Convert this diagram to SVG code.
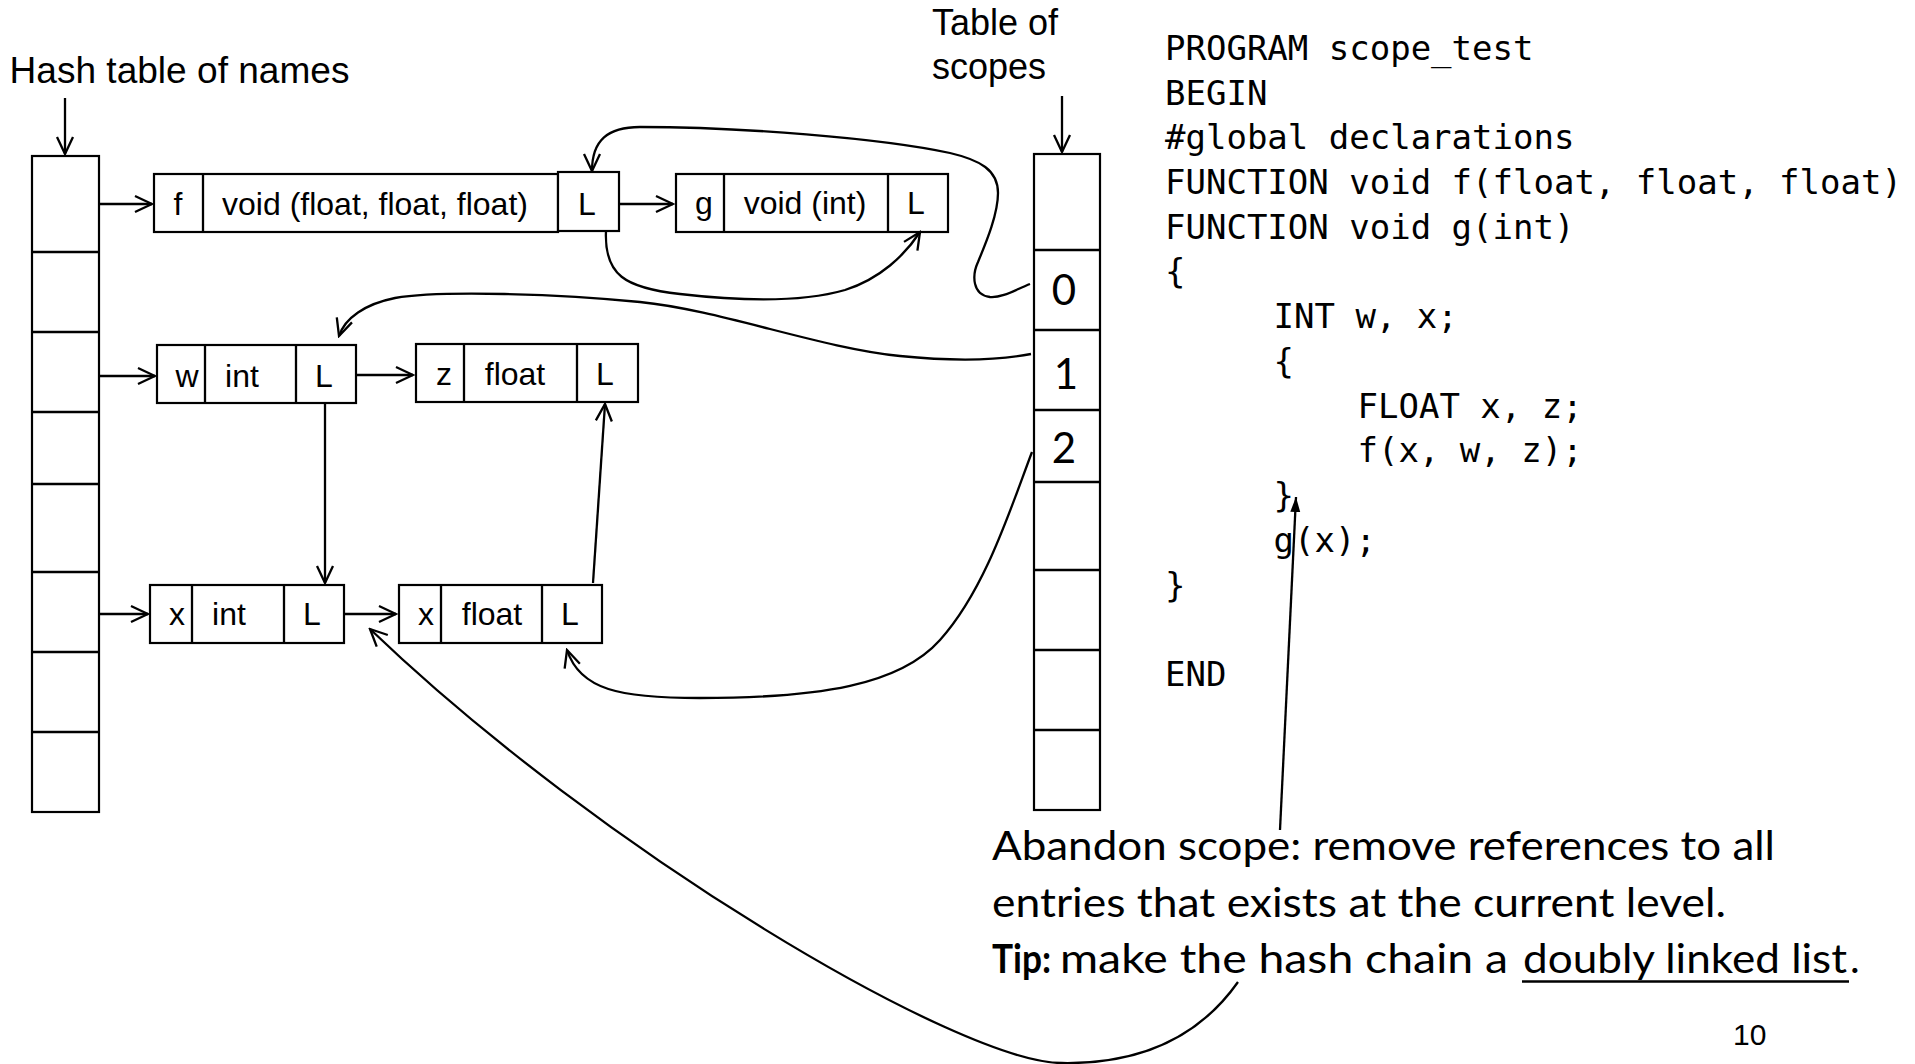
<svg xmlns="http://www.w3.org/2000/svg" width="1915" height="1064" viewBox="0 0 1915 1064">
<style>
.bg{fill:#fff}
.box{fill:#fff;stroke:#000;stroke-width:2.2}
.ln{fill:none;stroke:#000;stroke-width:2.3}
.arr{marker-end:url(#open)}
.sans{font-family:"Liberation Sans",Arial,sans-serif;fill:#000}
.nt{font-size:32px;text-anchor:middle}
.lbl{font-size:36px}
.num{font-family:Lato,"Noto Sans",sans-serif;font-size:42px;text-anchor:middle;fill:#000}
.code{font-family:"DejaVu Sans Mono","Liberation Mono",monospace;font-size:34px;fill:#000}
.note{font-family:Lato,"Noto Sans",sans-serif;font-size:41px;fill:#000}
</style>
<defs>
<marker id="open" markerUnits="userSpaceOnUse" markerWidth="22" markerHeight="22" viewBox="0 0 22 22" refX="20" refY="11" orient="auto">
<path d="M3,3 L20,11 L3,19" fill="none" stroke="#000" stroke-width="2.3"/>
</marker>
<marker id="solid" markerUnits="userSpaceOnUse" markerWidth="16" markerHeight="12" viewBox="0 0 16 12" refX="15" refY="6" orient="auto">
<path d="M0,1 L15,6 L0,11 Z" fill="#000"/>
</marker>
</defs>
<rect class="bg" x="0" y="0" width="1915" height="1064"/>

<g id="labels">
<text class="sans lbl" x="9.5" y="83" textLength="340" lengthAdjust="spacingAndGlyphs">Hash table of names</text>
<text class="sans lbl" x="932" y="35">Table of</text>
<text class="sans lbl" x="932" y="79">scopes</text>
</g>

<g id="hash-table">
<rect class="box" x="32" y="156" width="67" height="656"/>
<path class="ln" d="M32,252H99M32,332H99M32,412H99M32,484H99M32,572H99M32,652H99M32,732H99"/>
</g>

<g id="scope-table">
<rect class="box" x="1034" y="154" width="66" height="656"/>
<path class="ln" d="M1034,250H1100M1034,330H1100M1034,410H1100M1034,482H1100M1034,570H1100M1034,650H1100M1034,730H1100"/>
<text class="num" x="1064" y="305">0</text>
<text class="num" x="1066" y="389">1</text>
<text class="num" x="1064" y="463">2</text>
</g>

<g id="node-f">
<rect class="box" x="154" y="174" width="404" height="58"/>
<path class="ln" d="M203,174V232"/>
<rect class="box" x="558" y="172" width="61" height="59"/>
<text class="sans nt" x="178" y="215">f</text>
<text class="sans nt" x="375" y="215">void (float, float, float)</text>
<text class="sans nt" x="587" y="215">L</text>
</g>

<g id="node-g">
<rect class="box" x="676" y="174" width="272" height="58"/>
<path class="ln" d="M724,174V232M888,174V232"/>
<text class="sans nt" x="704" y="214">g</text>
<text class="sans nt" x="805" y="214">void (int)</text>
<text class="sans nt" x="916" y="214">L</text>
</g>

<g id="node-w">
<rect class="box" x="157" y="345" width="199" height="58"/>
<path class="ln" d="M205,345V403M296,345V403"/>
<text class="sans nt" x="187" y="387">w</text>
<text class="sans nt" x="242" y="387">int</text>
<text class="sans nt" x="324" y="387">L</text>
</g>

<g id="node-z">
<rect class="box" x="416" y="344" width="222" height="58"/>
<path class="ln" d="M464,344V402M577,344V402"/>
<text class="sans nt" x="444" y="385">z</text>
<text class="sans nt" x="515" y="385">float</text>
<text class="sans nt" x="605" y="385">L</text>
</g>

<g id="node-x-int">
<rect class="box" x="150" y="585" width="194" height="58"/>
<path class="ln" d="M192,585V643M284,585V643"/>
<text class="sans nt" x="177" y="625">x</text>
<text class="sans nt" x="229" y="625">int</text>
<text class="sans nt" x="312" y="625">L</text>
</g>

<g id="node-x-float">
<rect class="box" x="399" y="585" width="203" height="58"/>
<path class="ln" d="M441,585V643M542,585V643"/>
<text class="sans nt" x="426" y="625">x</text>
<text class="sans nt" x="492" y="625">float</text>
<text class="sans nt" x="570" y="625">L</text>
</g>

<g id="code">
<text class="code" x="1165" y="60">PROGRAM scope_test</text>
<text class="code" x="1165" y="105">BEGIN</text>
<text class="code" x="1165" y="149">#global declarations</text>
<text class="code" x="1165" y="194">FUNCTION void f(float, float, float)</text>
<text class="code" x="1165" y="239">FUNCTION void g(int)</text>
<text class="code" x="1165" y="283">{</text>
<text class="code" x="1273.5" y="328">INT w, x;</text>
<text class="code" x="1273.5" y="373">{</text>
<text class="code" x="1357.5" y="418">FLOAT x, z;</text>
<text class="code" x="1357.5" y="462">f(x, w, z);</text>
<text class="code" x="1273.5" y="507">}</text>
<text class="code" x="1273.5" y="552">g(x);</text>
<text class="code" x="1165" y="597">}</text>
<text class="code" x="1165" y="686">END</text>
</g>

<g id="note">
<text class="note" x="992" y="860" textLength="783" lengthAdjust="spacingAndGlyphs">Abandon scope: remove references to all</text>
<text class="note" x="992" y="917" textLength="734" lengthAdjust="spacingAndGlyphs">entries that exists at the current level.</text>
<text class="note" x="992" y="973" font-weight="bold" textLength="59" lengthAdjust="spacingAndGlyphs">Tip:</text>
<text class="note" x="1060" y="973" textLength="448" lengthAdjust="spacingAndGlyphs">make the hash chain a</text>
<text class="note" x="1523" y="973" textLength="324" lengthAdjust="spacingAndGlyphs">doubly linked list</text>
<text class="note" x="1850" y="973">.</text>
<line x1="1522" y1="981.5" x2="1849" y2="981.5" stroke="#000" stroke-width="2.5"/>
<text class="sans" x="1733" y="1045" font-size="30">10</text>
</g>

<g id="connectors">
<path class="ln arr" d="M65,98V154"/>
<path class="ln arr" d="M1062,96V152"/>
<path class="ln arr" d="M99,204H152"/>
<path class="ln arr" d="M99,376H155"/>
<path class="ln arr" d="M99,614H148"/>
<path class="ln arr" d="M620,204H673"/>
<path class="ln arr" d="M357,375H413"/>
<path class="ln arr" d="M345,614H396"/>
<path class="ln arr" d="M325,404V583"/>
<path class="ln arr" d="M593,583L605,404"/>
<path class="ln arr" d="M1030,284C1015,290 1002,298 990,297C972,295 972,275 978,262C985,245 998,215 998,193C998,170 980,160 950,153C880,138 740,127 640,127C608,127 592,140 592,171"/>
<path class="ln arr" d="M606,231C604,275 625,288 680,294C740,301 800,303 845,290C880,279 905,255 920,232"/>
<path class="ln arr" d="M1031,354C1000,360 960,362 900,356C820,348 720,310 640,302C560,294 440,290 395,298C365,304 345,318 339,336"/>
<path class="ln arr" d="M1032,452C1010,510 985,590 940,640C900,685 820,698 700,698C620,698 580,690 567,650"/>
<path class="ln arr" d="M1238,982C1190,1050 1120,1064 1062,1063C960,1063 600,850 370,629"/>
<path class="ln" marker-end="url(#solid)" d="M1280,830L1296,497"/>
</g>
</svg>
